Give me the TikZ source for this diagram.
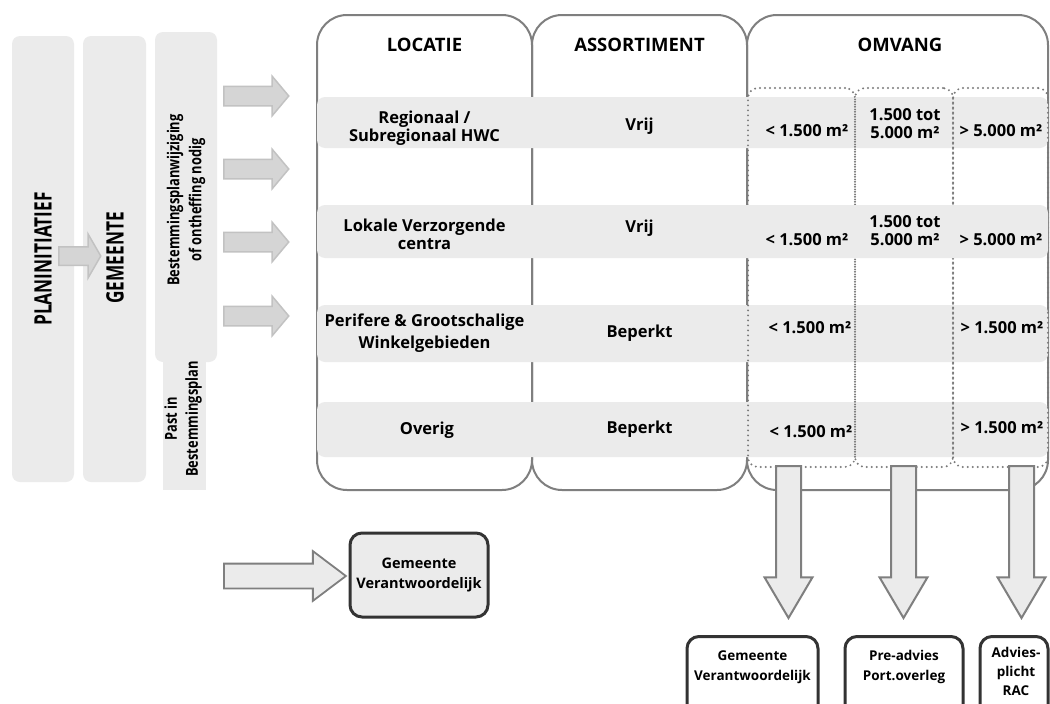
\documentclass[tikz,border=0pt]{standalone}
\usepackage{fontspec}
\setmainfont{Open Sans}
\newfontfamily\condA{Open Sans}[FakeStretch=0.72]
\newfontfamily\condB{Open Sans}[FakeStretch=0.78]
\usetikzlibrary{shapes.arrows}
\definecolor{barfill}{HTML}{EBEBEB}
\definecolor{colline}{HTML}{7F7F7F}
\definecolor{dotc}{HTML}{7A7A7A}
\definecolor{arrfill}{HTML}{D5D5D5}
\definecolor{arrline}{HTML}{C2C2C2}
\definecolor{boxline}{HTML}{333333}
\begin{document}
\begin{tikzpicture}[x=1pt,y=-1pt,
  bar/.style={fill=barfill, draw=none, rounded corners=8pt, inner sep=0pt, minimum width=62pt},
  colbox/.style={draw=colline, line width=2pt, rounded corners=30pt, inner sep=0pt, minimum height=475pt},
  band/.style={fill=barfill, rounded corners=8pt, minimum width=731pt, inner sep=0pt},
  subcol/.style={draw=dotc, line width=2.2pt, dash pattern=on 0pt off 5pt, line cap=round, rounded corners=10pt, minimum height=379pt, inner sep=0pt},
  txt/.style={font=\bfseries\fontsize{16.5}{18}\selectfont, align=center, inner sep=0pt},
  hdr/.style={font=\bfseries\fontsize{18.5}{20}\selectfont, inner sep=0pt},
  small/.style={font=\bfseries\fontsize{13.5}{20}\selectfont, align=center, inner sep=0pt},
  rarr/.style={single arrow, fill=arrfill, draw=arrline, line width=1.5pt, inner xsep=0pt, inner ysep=9pt, single arrow head extend=10pt, minimum width=38pt, minimum height=65pt, single arrow tip angle=100, anchor=tail},
  darr/.style={single arrow, fill=barfill, draw=colline, line width=2pt, inner xsep=0pt, inner ysep=11.5pt, single arrow head extend=11.5pt, minimum width=46pt, minimum height=152pt, single arrow tip angle=61, anchor=tail, rotate=-90},
  bbox/.style={draw=boxline, line width=3pt, rounded corners=12pt, fill=white, inner sep=0pt, minimum height=80pt, anchor=north},
]
\clip (0,0) rectangle (1050,704);
\fill[white] (0,0) rectangle (1050,704);

% left bars
\node[bar, minimum height=446pt] (plbar) at (43,259) {};
\node[bar, minimum width=63pt, minimum height=446pt] (gmbar) at (114.5,259) {};
\node[fill=barfill, inner sep=0pt, minimum width=43pt, minimum height=130pt] (pastbar) at (184.5,425) {};
\node[bar, minimum height=330pt] (bsbar) at (186,197) {};

\node[rotate=90, inner sep=0pt, font=\condA\bfseries\fontsize{24}{26}\selectfont] (pltxt) at (43,259) {PLANINITIATIEF};
\node[rotate=90, inner sep=0pt, font=\condA\bfseries\fontsize{24}{26}\selectfont] (gmtxt) at (115,258) {GEMEENTE};
\node[rotate=90, inner sep=0pt, align=center, font=\condB\bfseries\fontsize{16.5}{22}\selectfont] (bstxt) at (186,200) {Bestemmingsplanwijziging\\of ontheffing nodig};
\node[rotate=90, inner sep=0pt, align=center, font=\condB\bfseries\fontsize{16.5}{21}\selectfont] (pasttxt) at (183,419) {Past in\\Bestemmingsplan};

% small arrow between left bars
\node[single arrow, fill=arrfill, draw=arrline, line width=1.5pt, inner xsep=0pt, inner ysep=8.5pt, single arrow head extend=12.5pt, minimum width=42pt, minimum height=42pt, single arrow tip angle=120, anchor=tail] (la) at (58,256) {};

% four right arrows
\node[rarr] (ra1) at (223,96) {};
\node[rarr] (ra2) at (223,169) {};
\node[rarr] (ra3) at (223,242) {};
\node[rarr] (ra4) at (223,316) {};

% past-in arrow and box
\node[single arrow, fill=barfill, draw=colline, line width=1.8pt, inner xsep=0pt, inner ysep=11.5pt, single arrow head extend=12.5pt, minimum width=48pt, minimum height=122pt, single arrow tip angle=74, anchor=tail] (pa) at (223,576) {};
\node[draw=boxline, line width=3pt, rounded corners=12pt, fill=barfill, inner sep=0pt, minimum width=138pt, minimum height=84pt, align=center, font=\bfseries\fontsize{14.5}{20}\selectfont] (gvbox) at (419,575) {Gemeente\\Verantwoordelijk};

% main columns
\node[colbox, minimum width=215pt] (loc) at (424.5,252.5) {};
\node[colbox, minimum width=215pt] (ass) at (639.5,252.5) {};
\node[colbox, minimum width=301pt] (omv) at (897.5,252.5) {};

% bands 1,3,4
\node[band, minimum height=51pt] (r1) at (682.5,122.5) {};
\node[band, minimum height=57pt] (r3) at (682.5,333.5) {};
\node[band, minimum height=55pt] (r4) at (682.5,429.5) {};

% dotted sub columns
\node[subcol, minimum width=107pt] (sa) at (801.5,277.5) {};
\node[subcol, minimum width=98pt] (sb) at (904,277.5) {};
\node[subcol, minimum width=95pt] (sc) at (1000.5,277.5) {};

% band 2
\node[band, minimum height=53pt] (r2) at (682.5,231.5) {};

% headers
\node[hdr] (hloc) at (424.5,45) {LOCATIE};
\node[hdr] (hass) at (639.5,45) {ASSORTIMENT};
\node[hdr] (homv) at (900,45) {OMVANG};

% row 1
\node[txt] (l1) at (424.5,128) {Regionaal /\\Subregionaal HWC};
\node[txt] (a1) at (639.5,126) {Vrij};
\node[txt] (o1a) at (807,131) {< 1.500 m²};
\node[txt] (o1b) at (905,124) {1.500 tot\\5.000 m²};
\node[txt] (o1c) at (1001,131) {> 5.000 m²};
% row 2
\node[txt] (l2) at (424.5,234) {Lokale Verzorgende\\centra};
\node[txt] (a2) at (639.5,228) {Vrij};
\node[txt] (o2a) at (807,240) {< 1.500 m²};
\node[txt] (o2b) at (905,231) {1.500 tot\\5.000 m²};
\node[txt] (o2c) at (1001,240) {> 5.000 m²};
% row 3
\node[txt, font=\bfseries\fontsize{16.5}{22}\selectfont] (l3) at (424.5,333) {Perifere \& Grootschalige\\Winkelgebieden};
\node[txt] (a3) at (639.5,333) {Beperkt};
\node[txt] (o3a) at (810,328) {< 1.500 m²};
\node[txt] (o3c) at (1002,328) {> 1.500 m²};
% row 4
\node[txt] (l4) at (427,430) {Overig};
\node[txt] (a4) at (639.5,429) {Beperkt};
\node[txt] (o4a) at (811,432) {< 1.500 m²};
\node[txt] (o4c) at (1002,428) {> 1.500 m²};

% down arrows
\node[darr] (da1) at (788.5,465) {};
\node[darr] (da2) at (903.5,465) {};
\node[darr] (da3) at (1021.5,465) {};

% bottom boxes
\node[bbox, minimum width=131pt] (b1) at (752.5,635) {};
\node[bbox, minimum width=118pt] (b2) at (904,635) {};
\node[bbox, minimum width=68pt] (b3) at (1014,635) {};
\node[small] (t1) at (752.5,667) {Gemeente\\Verantwoordelijk};
\node[small] (t2) at (904,667) {Pre-advies\\Port.overleg};
\node[small, font=\bfseries\fontsize{13.5}{19}\selectfont] (t3) at (1016,671) {Advies-\\plicht\\RAC};
\end{tikzpicture}
\end{document}
